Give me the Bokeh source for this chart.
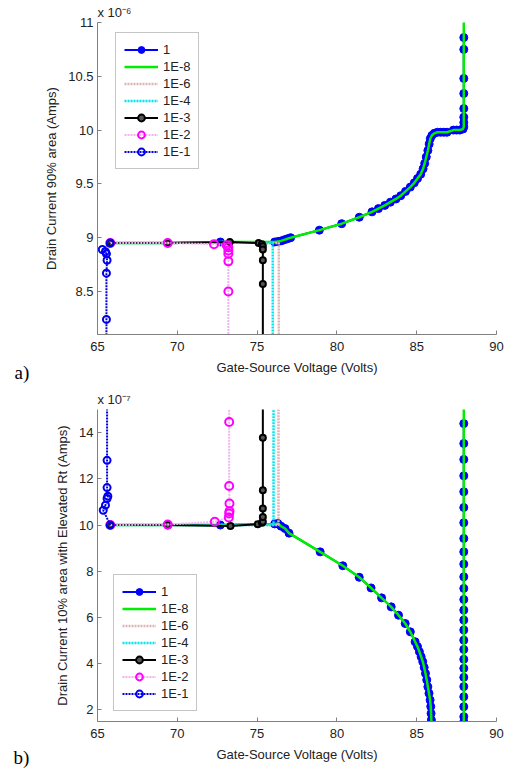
from bokeh.plotting import figure
from bokeh.layouts import column
from bokeh.models import (Range1d, FixedTicker, CustomJSTickFormatter, Legend,
                          LegendItem, Label, Title)
from bokeh.embed import file_html
from bokeh.resources import INLINE

# ---------------- data: panel a) (units of 1e-6 A) ----------------
A_V_1 = [65.8, 69.4, 72.7, 76.1, 76.3, 76.5, 76.7, 76.9, 77.1, 78.9, 80.3, 81.4,
         82.2, 82.6, 83.0, 83.35, 83.7, 84.0, 84.3, 84.6, 84.85, 85.05, 85.25,
         85.4, 85.5, 85.6, 85.7, 85.78, 85.85, 85.95, 86.1, 86.3, 86.5, 86.7,
         86.9, 87.3, 87.5, 87.7, 87.9, 87.95, 87.95, 87.95, 87.95, 87.95, 87.95,
         87.95, 87.95]
A_I_1 = [8.95, 8.95, 8.96, 8.96, 8.965, 8.97, 8.98, 8.99, 9.0, 9.07, 9.13, 9.19,
         9.24, 9.27, 9.30, 9.33, 9.36, 9.39, 9.43, 9.47, 9.51, 9.55, 9.59,
         9.64, 9.69, 9.75, 9.81, 9.87, 9.92, 9.95, 9.97, 9.98, 9.98, 9.98,
         9.98, 10.0, 10.0, 10.0, 10.01, 10.03, 10.07, 10.12, 10.2, 10.34, 10.48,
         10.75, 10.86]
A_V_1E8 = A_V_1 + [87.95]
A_I_1E8 = A_I_1 + [11.5]
A_V_1E6 = [65.8, 69.4, 73.3, 75.4, 76.0, 76.36, 76.36]
A_I_1E6 = [8.95, 8.95, 8.96, 8.95, 8.95, 8.95, 7.0]
A_V_1E4 = [65.8, 69.4, 73.3, 75.4, 75.98, 75.98]
A_I_1E4 = [8.95, 8.95, 8.96, 8.95, 8.95, 7.0]
A_V_1E3 = [65.8, 69.4, 73.3, 75.1, 75.3, 75.36, 75.36, 75.36, 75.36, 75.36]
A_I_1E3 = [8.95, 8.95, 8.96, 8.95, 8.94, 8.92, 8.89, 8.79, 8.57, 7.0]
A_V_1E2 = [65.8, 69.4, 72.3, 73.1, 73.2, 73.2, 73.2, 73.2, 73.2, 73.2]
A_I_1E2 = [8.95, 8.95, 8.94, 8.93, 8.91, 8.88, 8.85, 8.78, 8.5, 7.0]
A_V_1E1 = [65.8, 65.3, 65.5, 65.56, 65.6, 65.56, 65.56, 65.56]
A_I_1E1 = [8.95, 8.89, 8.87, 8.85, 8.79, 8.67, 8.24, 7.0]

# ---------------- data: panel b) (units of 1e-7 A) ----------------
B_V_1 = [65.8, 69.4, 72.7, 76.1, 76.3, 76.5, 76.75, 77.0, 78.95, 80.37, 81.4,
         82.14, 82.8, 83.4, 83.86, 84.28, 84.6, 84.9, 85.05, 85.17, 85.28, 85.38,
         85.47, 85.55, 85.63, 85.7, 85.77, 85.84, 85.88, 85.9, 85.92, 86.0,
         87.95, 87.95, 87.95, 87.95, 87.95, 87.95, 87.95, 87.95, 87.95, 87.95,
         87.95, 87.95, 87.95, 87.95, 87.95, 87.95, 87.95, 87.95, 87.95, 87.95,
         87.95, 87.95, 87.95, 87.95, 87.95, 87.95, 87.95]
B_I_1 = [10.0, 10.0, 10.0, 10.05, 10.07, 9.95, 9.85, 9.65, 8.84, 8.24, 7.74,
         7.28, 6.85, 6.46, 6.1, 5.74, 5.38, 4.95, 4.74, 4.52, 4.3, 4.09,
         3.84, 3.58, 3.3, 3.0, 2.72, 2.43, 2.15, 1.85, 1.57, 1.0,
         1.0, 1.49, 1.71, 2.14, 2.57, 3.01, 3.41, 3.80, 4.19, 4.62, 5.02,
         5.46, 5.89, 6.32, 6.78, 7.26, 7.76, 8.31, 8.84, 9.42, 10.10,
         10.76, 11.44, 12.13, 12.84, 13.53, 14.39]
B_V_1E8 = B_V_1 + [87.95]
B_I_1E8 = B_I_1 + [16.0]
B_V_1E6 = [65.8, 69.4, 73.3, 75.4, 76.0, 76.34, 76.34]
B_I_1E6 = [10.0, 10.0, 10.0, 10.0, 10.0, 10.0, 16.0]
B_V_1E4 = [65.8, 69.4, 73.3, 75.4, 76.03, 76.03]
B_I_1E4 = [10.0, 10.0, 10.0, 10.0, 10.0, 16.0]
B_V_1E3 = [65.8, 69.4, 73.33, 75.04, 75.3, 75.36, 75.36, 75.36, 75.36, 75.36, 75.36]
B_I_1E3 = [10.0, 10.0, 9.96, 10.04, 10.1, 10.14, 10.35, 10.72, 11.51, 13.78, 16.0]
B_V_1E2 = [65.8, 69.4, 72.35, 73.23, 73.25, 73.27, 73.27, 73.25, 73.25, 73.25]
B_I_1E2 = [10.0, 10.02, 10.14, 10.33, 10.5, 10.6, 10.93, 11.69, 14.46, 16.0]
B_V_1E1 = [65.8, 65.36, 65.5, 65.6, 65.65, 65.6, 65.6, 65.6]
B_I_1E1 = [10.0, 10.64, 10.86, 11.15, 11.25, 11.62, 12.8, 16.0]

LABELS = ["1", "1E-8", "1E-6", "1E-4", "1E-3", "1E-2", "1E-1"]
X_TICKS = [65, 70, 75, 80, 85, 90]
A_Y_TICKS = [8.5, 9, 9.5, 10, 10.5, 11]
B_Y_TICKS = [2, 4, 6, 8, 10, 12, 14]

FONT = "Liberation Sans"
AXIS_GRAY = "#808080"
TXT = "#222222"


def make_panel(series, yr, yticks, ylabel, border_top, border_bottom,
               legend_loc, mult_text, mult_standoff, tag, tag_x, tag_y):
    p = figure(output_backend="svg", toolbar_location=None,
               frame_width=399, frame_height=312,
               min_border_left=97, min_border_right=12,
               min_border_top=border_top, min_border_bottom=border_bottom,
               x_range=Range1d(65, 90), y_range=Range1d(*yr))
    p.outline_line_color = None
    p.grid.visible = False
    p.background_fill_color = "white"
    p.border_fill_color = "white"

    for ax in (p.xaxis[0], p.yaxis[0]):
        ax.axis_line_color = AXIS_GRAY
        ax.major_tick_line_color = AXIS_GRAY
        ax.major_tick_in = 4
        ax.major_tick_out = 0
        ax.minor_tick_line_color = None
        ax.major_label_text_font = FONT
        ax.major_label_text_font_size = "13px"
        ax.major_label_text_color = TXT
        ax.axis_label_text_font = FONT
        ax.axis_label_text_font_size = "13px"
        ax.axis_label_text_font_style = "normal"
        ax.axis_label_text_color = TXT
        ax.formatter = CustomJSTickFormatter(code="return String(Math.round(tick*10)/10)")
    p.xaxis.ticker = FixedTicker(ticks=X_TICKS)
    p.yaxis.ticker = FixedTicker(ticks=yticks)
    p.xaxis.axis_label = "Gate-Source Voltage (Volts)"
    p.yaxis.axis_label = ylabel
    p.xaxis.major_label_standoff = 7
    p.xaxis.axis_label_standoff = 6
    p.yaxis.major_label_standoff = 4
    p.yaxis.axis_label_standoff = 6

    (v1, i1), (v8, i8), (v6, i6), (v4, i4), (v3, i3), (v2, i2), (vb, ib) = series
    items = []
    l = p.line(v1, i1, line_color="#0000ff", line_width=2)
    m = p.scatter(v1, i1, marker="circle", size=8, fill_color="#0000ff",
                  line_color="#0000ff", line_width=1)
    items.append(LegendItem(label=LABELS[0], renderers=[l, m]))
    l = p.line(v8, i8, line_color="#00ee00", line_width=2.5)
    items.append(LegendItem(label=LABELS[1], renderers=[l]))
    l = p.line(v6, i6, line_color="#deb4b4", line_width=2.5, line_dash="2 1")
    items.append(LegendItem(label=LABELS[2], renderers=[l]))
    l = p.line(v4, i4, line_color="#00e5ee", line_width=2.5, line_dash="2 1")
    items.append(LegendItem(label=LABELS[3], renderers=[l]))
    l = p.line(v3, i3, line_color="black", line_width=2)
    m = p.scatter(v3, i3, marker="circle", size=6, fill_color="#555555",
                  line_color="black", line_width=2)
    items.append(LegendItem(label=LABELS[4], renderers=[l, m]))
    l = p.line(v2, i2, line_color="#f0b4f0", line_width=2, line_dash="2 1")
    m = p.scatter(v2, i2, marker="circle", size=8, fill_color=None,
                  line_color="#ff00ff", line_width=2)
    items.append(LegendItem(label=LABELS[5], renderers=[l, m]))
    l = p.line(vb, ib, line_color="#0000dd", line_width=2, line_dash="2 1")
    m = p.scatter(vb, ib, marker="circle", size=7, fill_color=None,
                  line_color="#0000ee", line_width=2)
    items.append(LegendItem(label=LABELS[6], renderers=[l, m]))

    legend = Legend(items=items, location=legend_loc,
                    glyph_width=34, glyph_height=17, label_height=17,
                    label_standoff=5, spacing=0, padding=8, margin=0,
                    label_text_font=FONT, label_text_font_size="13px",
                    label_text_color=TXT,
                    border_line_color="#8c8c8c", border_line_width=1,
                    background_fill_color="white", background_fill_alpha=1)
    p.add_layout(legend, "center")

    t = Title(text=mult_text, align="left", standoff=mult_standoff, offset=0,
              text_font=FONT, text_font_size="13px", text_font_style="normal",
              text_color=TXT)
    p.add_layout(t, "above")
    # panel tag, placed in the left side panel (wide enough) so it is not clipped
    p.add_layout(Label(x=tag_x, y=tag_y, x_units="data", y_units="data",
                       text=tag, text_font="Liberation Serif",
                       text_font_size="19px", text_color="black",
                       text_baseline="alphabetic", text_align="left"), "left")
    return p


pa = make_panel(
    [(A_V_1, A_I_1), (A_V_1E8, A_I_1E8), (A_V_1E6, A_I_1E6), (A_V_1E4, A_I_1E4),
     (A_V_1E3, A_I_1E3), (A_V_1E2, A_I_1E2), (A_V_1E1, A_I_1E1)],
    (8.1, 11.0), A_Y_TICKS, "Drain Current 90% area (Amps)", 22, 51,
    (18, 165), "x 10\u207b\u2076", 5, "a)", 59.8, 7.75)

pb = make_panel(
    [(B_V_1, B_I_1), (B_V_1E8, B_I_1E8), (B_V_1E6, B_I_1E6), (B_V_1E4, B_I_1E4),
     (B_V_1E3, B_I_1E3), (B_V_1E2, B_I_1E2), (B_V_1E1, B_I_1E1)],
    (1.5, 15.0), B_Y_TICKS, "Drain Current 10% area with Elevated Rt (Amps)",
    24, 48, (16, 10), "x 10\u207b\u2077", 6, "b)", 59.74, -0.05)

layout = column(pa, pb, spacing=0)
open("out.html", "w").write(file_html(layout, INLINE))
